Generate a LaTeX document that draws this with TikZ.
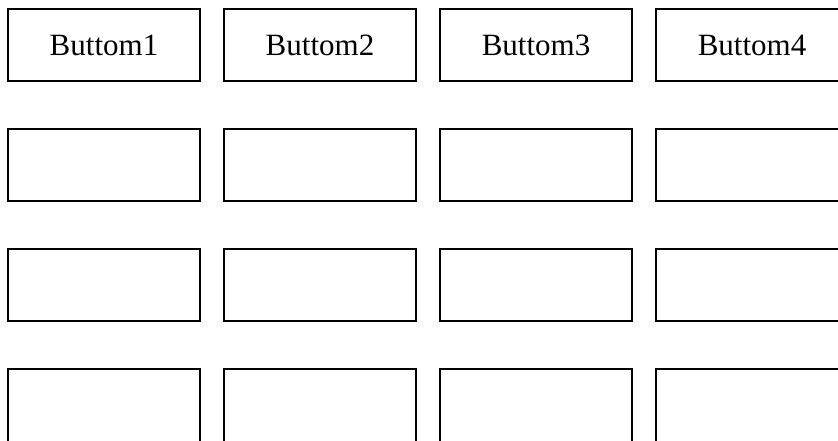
\documentclass[tikz,border=0pt]{standalone}
\usepackage{fontspec}
\setmainfont{Liberation Serif}
\usetikzlibrary{positioning}

\begin{document}
\begin{tikzpicture}[
    node distance=24pt and 12pt,
    box/.style={draw,line width=1pt,minimum width=96pt,minimum height=36pt,
        inner sep=0pt,outer sep=0pt,font=\fontsize{15.5}{18}\selectfont},
    lastbox/.style={box,minimum height=44pt}
]
\clip (0,0) rectangle (419pt,-220pt);
% top row with labels
\node[box,anchor=north west] (btn1) at (4pt,-4.5pt) {Buttom1};
\node[box,right=of btn1] (btn2) {Buttom2};
\node[box,right=of btn2] (btn3) {Buttom3};
\node[box,right=of btn3] (btn4) {Buttom4};
% empty rows
\node[box,below=of btn1] (cell21) {};
\node[box,below=of btn2] (cell22) {};
\node[box,below=of btn3] (cell23) {};
\node[box,below=of btn4] (cell24) {};
\node[box,below=of cell21] (cell31) {};
\node[box,below=of cell22] (cell32) {};
\node[box,below=of cell23] (cell33) {};
\node[box,below=of cell24] (cell34) {};
\node[lastbox,below=of cell31] (cell41) {};
\node[lastbox,below=of cell32] (cell42) {};
\node[lastbox,below=of cell33] (cell43) {};
\node[lastbox,below=of cell34] (cell44) {};
\end{tikzpicture}
\end{document}
